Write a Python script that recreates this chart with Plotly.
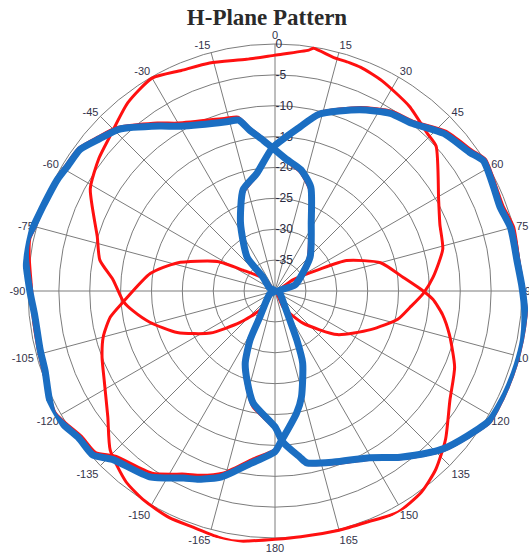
import plotly.graph_objects as go

# ---- angular / radial tick labels ----
ang_ticks = list(range(0, 360, 15))
ang_text = ["0", "15", "30", "45", "60", "75", "90", "105", "120", "135", "150", "165",
            "180", "-165", "-150", "-135", "-120", "-105", "-90", "-75", "-60", "-45", "-30", "-15"]
rad_ticks = [0, -5, -10, -15, -20, -25, -30, -35]
rad_text = ["0", "-5", "-10", "-15", "-20", "-25", "-30", "-35"]

# ---- red: lobe toward 0 deg (null toward 180) ----
red_top_theta = [-180, -142, -132, -123, -113, -104, -98, -94, -86, -80, -73, -61, -53, -47,
                 -38, -30, -23, -16, -7, 0, 8, 9, 14, 18, 21, 27, 36, 44, 48, 61, 68, 76, 85,
                 91, 97, 103, 112, 125, 139, 153, 180]
red_top_r = [-40, -36.1, -32.4, -27.5, -22.8, -19.1, -16.8, -15.4, -13.7, -11.2, -9.9, -5.8,
             -4.3, -3.4, -1.3, -0.2, -1.2, -1.6, -2.2, -1.8, -0.6, -0.2, -1.0, -1.1, -1.2, -1.8,
             -3.0, -4.5, -4.9, -9.7, -11.2, -12.0, -14.3, -16.0, -18.0, -19.6, -23.3, -27.7,
             -33.1, -37.0, -40]

# ---- red: lobe toward 180 deg (null toward 0) ----
red_bot_theta = [-180, -174, -171, -167, -161, -155, -148, -142, -134, -127, -118, -111, -105,
                 -99, -94, -82, -74, -63, -57, -40, 0, 58, 64, 67, 75, 84, 90, 93, 98, 104,
                 113, 122, 131, 138, 144, 151, 158, 165, 174, 180]
red_bot_r = [0.2, 0.7, 1.0, 0.9, 0.5, 0.5, 0.0, -0.8, -2.9, -6.1, -8.7, -10.0, -11.2, -13.0,
             -15.4, -19.6, -23.5, -29.5, -33.8, -37.5, -40, -36.5, -32.0, -27.4, -22.3, -19.1,
             -16.0, -14.4, -12.6, -10.9, -8.4, -6.6, -3.4, -1.1, 0.3, 1.0, 0.3, 0.1, 0.0, 0.2]

# ---- blue: lobe toward -90 deg (null toward +90) ----
blue_left_theta = [-180, -172, -164, -158, -154, -146, -136, -132, -127, -119, -109, -104,
                   -96, -90, -82, -78, -75, -70, -63, -59, -54, -49, -44, -35, -30, -16, -12,
                   -9, -4.5, -1, 5, 12, 19, 28, 46, 73, 90, 120, 145, 153, 156, 159, 166, 170,
                   178, 180]
blue_left_r = [-14.0, -11.8, -8.7, -7.1, -6.3, -3.7, -2.1, -0.3, -0.3, 1.1, -0.6, -0.8, -0.9,
               -0.3, 0.8, 1.0, 0.5, 0.0, -0.4, -0.8, -1.0, -2.4, -3.6, -7.4, -9.2, -11.5,
               -11.7, -13.6, -15.5, -16.8, -18.6, -19.9, -22.2, -27.5, -32.1, -36.6, -39.5,
               -39.0, -37.5, -34.7, -31.3, -27.5, -22.3, -19.9, -15.4, -14.0]

# ---- blue: lobe toward +90 deg (null toward -90) ----
blue_right_theta = [-180, -169, -162.5, -157.5, -153, -150, -120, -90, -60, -41, -39.5, -27,
                    -17.5, -8.7, -1, 8.7, 14, 25, 33, 39, 47, 54.5, 58, 64.5, 69.5, 75, 83, 89,
                    95, 101, 107, 114, 121, 127, 133, 136, 143, 151, 161, 169.5, 171.5, 177, 180]
blue_right_r = [-18.0, -21.5, -24.9, -27.4, -31.1, -35.0, -39.0, -40, -39.0, -37.0, -32.9,
                -27.7, -22.8, -20.7, -16.8, -13.1, -10.5, -7.6, -5.7, -5.0, -2.6, -1.3, -0.2,
                -0.8, -1.1, -0.5, -0.5, 0.0, 0.6, 1.0, 1.0, 0.9, 0.6, -1.0, -2.6, -3.7, -6.3,
                -9.1, -10.7, -11.7, -12.8, -15.5, -18.0]

# ---- red companions running beside the blue curves ----
red_left_theta = blue_left_theta
red_left_r = [-14.3, -12.4, -9.3, -7.8, -7.0, -4.4, -2.8, -0.9, -0.8, 0.7, -0.3, -0.5, -0.6,
              -0.6, 0.2, 0.6, 0.2, -0.1, -0.2, -0.5, -0.7, -2.0, -3.2, -6.8, -8.6, -10.9,
              -11.2, -13.2, -15.2, -16.8, -18.9, -20.3, -22.7, -28.0, -32.6, -37.0, -39.5,
              -39.0, -37.2, -34.2, -30.8, -27.0, -21.9, -19.6, -15.2, -14.3]
red_right_theta = blue_right_theta
red_right_r = [-17.7, -21.0, -24.4, -26.9, -30.7, -34.6, -39.0, -40, -39.0, -37.3, -33.3,
               -28.1, -23.2, -21.0, -16.9, -13.0, -10.2, -7.2, -5.3, -4.6, -2.1, -0.8, 0.2,
               -0.4, -0.6, 0.0, -0.2, 0.2, 0.9, 1.0, 1.0, 1.0, 0.9, -0.7, -2.3, -3.4, -6.0,
               -8.8, -10.4, -11.5, -12.6, -15.3, -17.7]

RED = "#FF1010"
BLUE = "#1B6EC2"
GRID = "#7c7c7c"

fig = go.Figure()
# grid subplot: needs one (invisible) trace so it is drawn
fig.add_trace(go.Scatterpolar(r=[-40], theta=[0], mode="markers", subplot="polar",
                              marker=dict(opacity=0), hoverinfo="skip"))
for th, rr in [(red_left_theta, red_left_r), (red_right_theta, red_right_r),
               (red_top_theta, red_top_r), (red_bot_theta, red_bot_r)]:
    fig.add_trace(go.Scatterpolar(theta=th, r=rr, mode="lines", subplot="polar2",
                                  line=dict(color=RED, width=3, shape="spline", smoothing=0.6),
                                  hoverinfo="skip"))
for th, rr in [(blue_left_theta, blue_left_r), (blue_right_theta, blue_right_r)]:
    fig.add_trace(go.Scatterpolar(theta=th, r=rr, mode="lines", subplot="polar2",
                                  line=dict(color=BLUE, width=7, shape="spline", smoothing=0.6),
                                  hoverinfo="skip"))

W, H = 529, 552
cx, cy, R = 275, 291, 247
RMAX = 1.1                      # traces may run slightly past the 0 dB ring
R2 = R * (40 + RMAX) / 40
fig.update_layout(
    width=W, height=H,
    margin=dict(l=0, r=0, t=0, b=0),
    paper_bgcolor="white",
    showlegend=False,
    title=dict(text="<b>H-Plane Pattern</b>", x=267 / W, xanchor="center",
               y=1 - 17 / H, yanchor="middle",
               font=dict(family="Liberation Serif", size=23, color="#2a2a2a")),
    polar=dict(
        domain=dict(x=[(cx - R) / W, (cx + R) / W], y=[1 - (cy + R) / H, 1 - (cy - R) / H]),
        bgcolor="white",
        angularaxis=dict(rotation=90, direction="clockwise", tickmode="array",
                         tickvals=ang_ticks, ticktext=ang_text, ticks="",
                         showline=True, linecolor=GRID, linewidth=1,
                         gridcolor=GRID, gridwidth=1,
                         tickfont=dict(family="Liberation Sans", size=11, color="#33334a")),
        radialaxis=dict(range=[-40, 0], tickmode="array", tickvals=rad_ticks,
                        ticktext=rad_text, angle=90, side="clockwise", tickangle=90,
                        showline=False, ticks="", gridcolor=GRID, gridwidth=1,
                        tickfont=dict(family="Liberation Sans", size=12, color="#2a2a40")),
    ),
    polar2=dict(
        domain=dict(x=[(cx - R2) / W, min(1.0, (cx + R2) / W)],
                    y=[1 - (cy + R2) / H, 1 - (cy - R2) / H]),
        bgcolor="rgba(0,0,0,0)",
        angularaxis=dict(rotation=90, direction="clockwise", visible=False,
                         showgrid=False, showline=False),
        radialaxis=dict(range=[-40, RMAX], visible=False, showgrid=False, showline=False),
    ),
)

fig.write_html("out.html")
